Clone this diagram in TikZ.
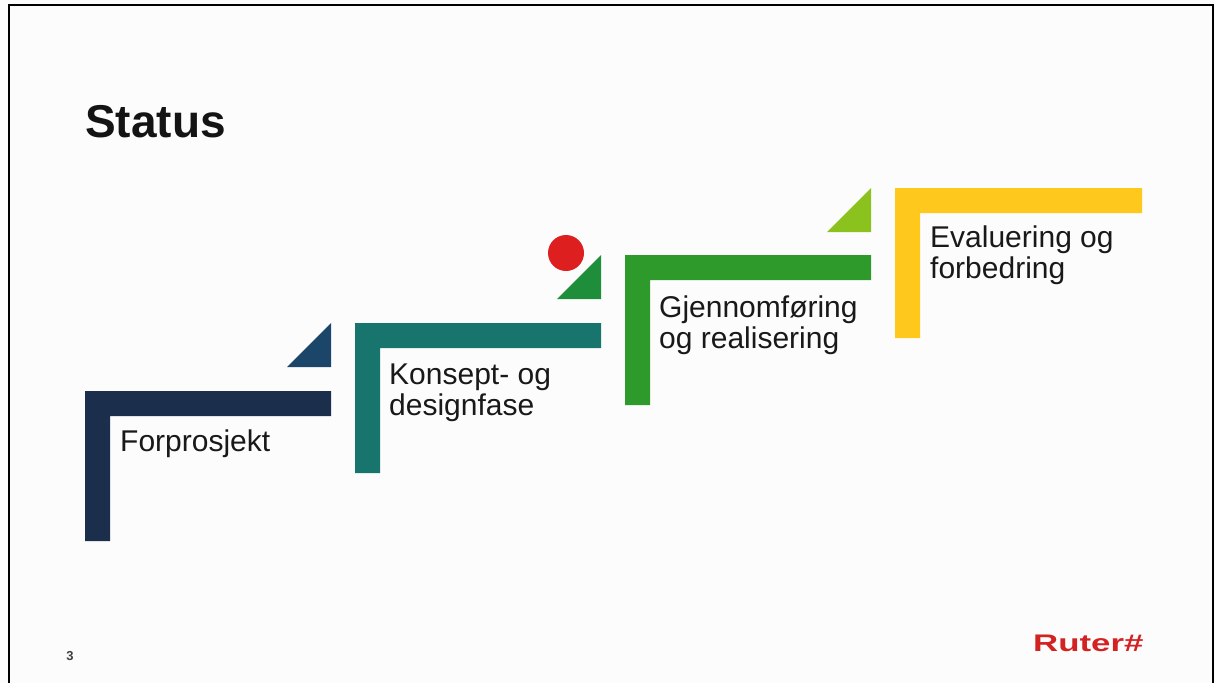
\documentclass[tikz,border=0pt]{standalone}
\usepackage{fontspec}
\setmainfont{Liberation Sans}
\usepackage{tikz}

\definecolor{pagebg}{HTML}{FCFCFD}
\definecolor{stepnavy}{HTML}{1B2E4C}
\definecolor{trinavy}{HTML}{1B466A}
\definecolor{stepteal}{HTML}{18756E}
\definecolor{stepgreen}{HTML}{2E9A2C}
\definecolor{trigreen}{HTML}{1F8E3A}
\definecolor{trilime}{HTML}{8CC21E}
\definecolor{stepyellow}{HTML}{FFC81C}
\definecolor{dotred}{HTML}{DE1F1F}
\definecolor{logored}{HTML}{D32222}

\begin{document}
\begin{tikzpicture}[x=1pt,y=1pt]
				\tikzstyle{every node}+=[inner sep=0pt]
				\tikzstyle{steptext}=[anchor=base west, align=left, font=\fontsize{30}{31}\selectfont, text=black!90]
				\useasboundingbox (0,0) rectangle (1215,-683);
				\fill [pagebg] (0,0) rectangle (1215,-683);
				\draw [black, line width=2pt] (9,-683) -- (9,-5) -- (1213,-5) -- (1213,-683);
				\node (status) [anchor=base west, font=\fontsize{46}{50}\selectfont\bfseries, text=black!92] at (85,-137) {Status};
				% step 1
				\fill [stepnavy] (85,-541) -- (85,-391) -- (331,-391) -- (331,-416) -- (110,-416) -- (110,-541) -- cycle;
				\fill [trinavy] (287,-367) -- (331,-367) -- (331,-323) -- cycle;
				\node (forprosjekt) [steptext] at (120,-451) {Forprosjekt};
				% step 2
				\fill [stepteal] (355,-473) -- (355,-323) -- (601,-323) -- (601,-348) -- (380,-348) -- (380,-473) -- cycle;
				\fill [trigreen] (557,-299) -- (601,-299) -- (601,-255) -- cycle;
				\fill [dotred] (566,-253) circle (18);
				\node (konsept) [steptext] at (389,-415) {Konsept- og\\designfase};
				% step 3
				\fill [stepgreen] (625,-405) -- (625,-255) -- (871,-255) -- (871,-280) -- (650,-280) -- (650,-405) -- cycle;
				\fill [trilime] (827,-232) -- (871,-232) -- (871,-188) -- cycle;
				\node (gjennomforing) [steptext] at (659,-348) {Gjennomføring\\og realisering};
				% step 4
				\fill [stepyellow] (895,-338) -- (895,-188) -- (1142,-188) -- (1142,-213) -- (920,-213) -- (920,-338) -- cycle;
				\node (evaluering) [steptext] at (930,-278) {Evaluering og\\forbedring};
				% footer
				\node (pagenum) [anchor=base, font=\fontsize{13}{14}\selectfont\bfseries, text=black!75] at (70,-660) {3};
				\node (ruter) [anchor=base west, font=\fontsize{24}{26}\selectfont\bfseries, text=logored] at (1033,-651) {\scalebox{1.45}[1]{Ruter\#}};
			\end{tikzpicture}
\end{document}
